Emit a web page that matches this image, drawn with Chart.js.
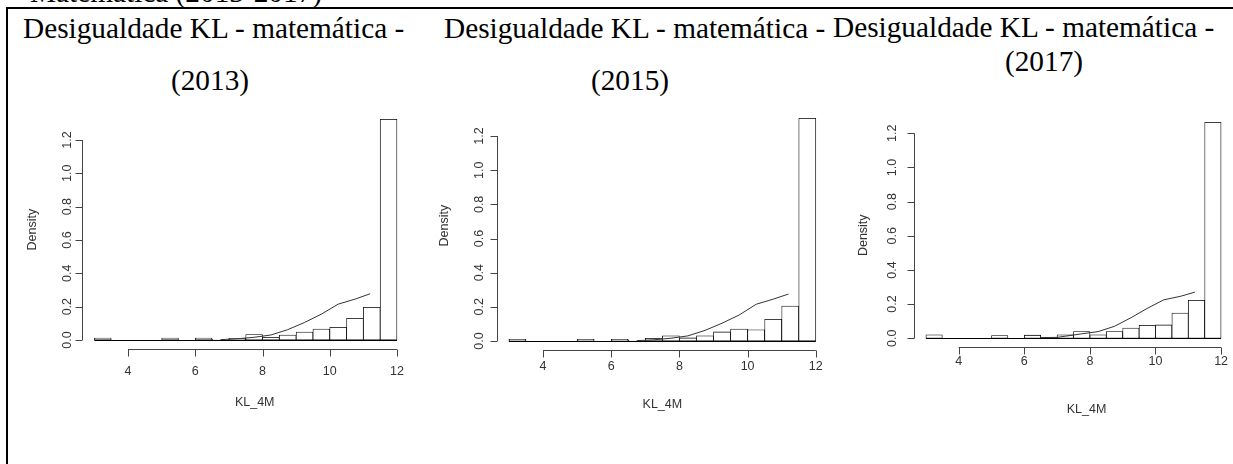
<!DOCTYPE html>
<html lang="pt">
<head>
<meta charset="utf-8">
<title>Desigualdade KL - matemática</title>
<script src="https://cdn.jsdelivr.net/npm/chart.js@4.4.1/dist/chart.umd.min.js"></script>
<style>
  html, body { margin: 0; padding: 0; background: #fff; }
  #page { position: relative; width: 1233px; height: 464px; overflow: hidden;
          font-family: "Liberation Serif", "Times New Roman", serif; color: #000; }
  .frame { position: absolute; left: 6px; top: 7px; right: -10px; bottom: -10px;
           border-left: 2px solid #000; border-top: 2px solid #000; }
  .t { position: absolute; font-size: 29.3px; line-height: 30px; white-space: nowrap; }
  .c { width: 240px; text-align: center; }
  canvas { position: absolute; }
</style>
</head>
<body>
<div id="page">
  <div class="t" style="left:30px; top:-23px;">Matemática (2013-2017)</div>
  <div class="frame"></div>

  <div class="t" style="left:23px; top:13px;">Desigualdade KL - matemática -</div>
  <div class="t c" style="left:90px; top:65px;">(2013)</div>

  <div class="t" style="left:444px; top:13px;">Desigualdade KL - matemática -</div>
  <div class="t c" style="left:510px; top:65px;">(2015)</div>

  <div class="t" style="left:833px; top:12px;">Desigualdade KL - matemática -</div>
  <div class="t c" style="left:924px; top:46px;">(2017)</div>

  <canvas id="c2013"></canvas>
  <canvas id="c2015"></canvas>
  <canvas id="c2017"></canvas>
</div>

<script>
// histogram bins (width 0.5, from 3 to 12)
const binEdges = [3, 12];
const binMids = [3.25, 3.75, 4.25, 4.75, 5.25, 5.75, 6.25, 6.75, 7.25,
                 7.75, 8.25, 8.75, 9.25, 9.75, 10.25, 10.75, 11.25, 11.75];

const dens2013 = [0.012, 0, 0, 0, 0.012, 0, 0.012, 0.004, 0.01,
                  0.032, 0.016, 0.03, 0.048, 0.066, 0.076, 0.13, 0.196, 1.324];
const dens2015 = [0.01, 0, 0, 0, 0.01, 0, 0.01, 0.004, 0.016,
                  0.03, 0.018, 0.03, 0.053, 0.07, 0.066, 0.127, 0.205, 1.304];
const dens2017 = [0.02, 0, 0, 0, 0.016, 0, 0.018, 0.006, 0.02,
                  0.039, 0.02, 0.039, 0.06, 0.076, 0.078, 0.148, 0.222, 1.265];

// curve drawn over each histogram
const lineX2013 = [6.75, 7.25, 7.75, 8.25, 8.75, 9.25, 9.75, 10.25, 10.75, 11.2];
const lineY2013 = [0.002, 0.007, 0.016, 0.03, 0.062, 0.105, 0.155, 0.215, 0.245, 0.277];
const lineX2015 = [6.75, 7.25, 7.75, 8.25, 8.75, 9.25, 9.75, 10.25, 10.75, 11.2];
const lineY2015 = [0.002, 0.007, 0.016, 0.03, 0.062, 0.104, 0.152, 0.215, 0.245, 0.275];
const lineX2017 = [6.5, 7.0, 7.25, 7.75, 8.25, 8.75, 9.25, 9.75, 10.25, 10.75, 11.2];
const lineY2017 = [0.004, 0.005, 0.012, 0.026, 0.039, 0.07, 0.12, 0.175, 0.225, 0.245, 0.27];

// axis ticks
const xTicks = [4, 6, 8, 10, 12];
const xTickLabels = ["4", "6", "8", "10", "12"];
const yTicks = [0, 0.2, 0.4, 0.6, 0.8, 1.0, 1.2];
const yTickLabels = ["0.0", "0.2", "0.4", "0.6", "0.8", "1.0", "1.2"];

const xTitle = "KL_4M";
const yTitle = "Density";

// base-graphics style axes: lines only over the tick range, rotated y labels
const rAxes = {
  id: "rAxes",
  beforeDatasetsDraw(chart) {
    const { ctx, scales: { x, y } } = chart;
    const y0 = Math.round(y.getPixelForValue(0)) + 0.5;
    ctx.save();
    ctx.strokeStyle = "#000";
    ctx.lineWidth = 1;
    ctx.beginPath();
    ctx.moveTo(x.getPixelForValue(binEdges[0]), y0);
    ctx.lineTo(x.getPixelForValue(binEdges[1]), y0);
    ctx.stroke();
    ctx.restore();
  },
  afterDraw(chart, args, o) {
    const { ctx, chartArea: a, scales: { x, y } } = chart;
    const tick = 7;
    ctx.save();
    ctx.strokeStyle = "#444";
    ctx.fillStyle = "#333";
    ctx.lineWidth = 1;
    ctx.font = "12.5px 'Liberation Sans', Arial, sans-serif";

    // x axis
    const xb = Math.round(a.bottom) + 0.5;
    ctx.beginPath();
    ctx.moveTo(x.getPixelForValue(x.ticks[0].value), xb);
    ctx.lineTo(x.getPixelForValue(x.ticks[x.ticks.length - 1].value), xb);
    x.ticks.forEach(t => {
      const px = Math.round(x.getPixelForValue(t.value)) + 0.5;
      ctx.moveTo(px, xb);
      ctx.lineTo(px, xb + tick);
    });
    ctx.stroke();
    ctx.textAlign = "center";
    ctx.textBaseline = "middle";
    x.ticks.forEach(t => {
      const i = xTicks.indexOf(t.value);
      ctx.fillText(xTickLabels[i], x.getPixelForValue(t.value), a.bottom + o.xTick);
    });
    ctx.fillText(xTitle, (a.left + a.right) / 2 + o.xTitleShift, a.bottom + o.xTitle);

    // y axis
    const yl = Math.round(a.left) + 0.5;
    ctx.beginPath();
    ctx.moveTo(yl, y.getPixelForValue(y.ticks[0].value));
    ctx.lineTo(yl, y.getPixelForValue(y.ticks[y.ticks.length - 1].value));
    y.ticks.forEach(t => {
      const py = Math.round(y.getPixelForValue(t.value)) + 0.5;
      ctx.moveTo(yl, py);
      ctx.lineTo(yl - tick, py);
    });
    ctx.stroke();
    y.ticks.forEach(t => {
      const i = yTicks.indexOf(t.value);
      ctx.save();
      ctx.translate(a.left - o.yTick, y.getPixelForValue(t.value));
      ctx.rotate(-Math.PI / 2);
      ctx.fillText(yTickLabels[i], 0, 0);
      ctx.restore();
    });
    ctx.save();
    ctx.translate(a.left - o.yTitle, (a.top + a.bottom) / 2 + o.yTitleShift);
    ctx.rotate(-Math.PI / 2);
    ctx.fillText(yTitle, 0, 0);
    ctx.restore();

    ctx.restore();
  }
};

const panels = [
  { id: "c2013", dens: dens2013, lx: lineX2013, ly: lineY2013,
    box: [10, 100, 405, 320], plot: [82.3, 110.5, 409.1, 348.8],
    gaps: { yTick: 15, yTitle: 50, xTick: 23, xTitle: 54, xTitleShift: 9, yTitleShift: 0 } },
  { id: "c2015", dens: dens2015, lx: lineX2015, ly: lineY2015,
    box: [420, 100, 410, 320], plot: [496.6, 109.4, 828.1, 349.9],
    gaps: { yTick: 17, yTitle: 52, xTick: 17, xTitle: 55, xTitleShift: 0, yTitleShift: -4 } },
  { id: "c2017", dens: dens2017, lx: lineX2017, ly: lineY2017,
    box: [830, 100, 403, 320], plot: [914.1, 113.6, 1232.9, 346.9],
    gaps: { yTick: 22, yTitle: 51, xTick: 15, xTitle: 63, xTitleShift: 13, yTitleShift: 5 } }
];

panels.forEach(p => {
  const el = document.getElementById(p.id);
  const [bx, by, bw, bh] = p.box;
  el.width = bw;
  el.height = bh;
  el.style.left = bx + "px";
  el.style.top = by + "px";
  const top = Math.max(...p.dens);

  new Chart(el, {
    type: "bar",
    data: {
      datasets: [
        {
          type: "line",
          data: p.lx.map((v, i) => ({ x: v, y: p.ly[i] })),
          borderColor: "#333",
          borderWidth: 1,
          pointRadius: 0,
          tension: 0,
          fill: false,
          order: 0
        },
        {
          data: binMids.map((m, i) => ({ x: m, y: p.dens[i] })),
          backgroundColor: "#fff",
          borderColor: "#000",
          borderWidth: 0.8,
          borderSkipped: false,
          barPercentage: 1,
          categoryPercentage: 1,
          order: 1
        }
      ]
    },
    options: {
      responsive: false,
      animation: false,
      devicePixelRatio: 1,
      layout: {
        padding: {
          left: p.plot[0] - bx,
          top: p.plot[1] - by,
          right: bx + bw - p.plot[2],
          bottom: by + bh - p.plot[3]
        }
      },
      plugins: {
        legend: { display: false },
        tooltip: { enabled: false },
        rAxes: p.gaps
      },
      scales: {
        x: {
          type: "linear", min: 2.64, max: 12.36, offset: false, display: false,
          afterBuildTicks: s => { s.ticks = xTicks.map(v => ({ value: v })); }
        },
        y: {
          type: "linear", min: -0.04 * top, max: 1.04 * top, display: false,
          afterBuildTicks: s => { s.ticks = yTicks.map(v => ({ value: v })); }
        }
      }
    },
    plugins: [rAxes]
  });
});
</script>
</body>
</html>
